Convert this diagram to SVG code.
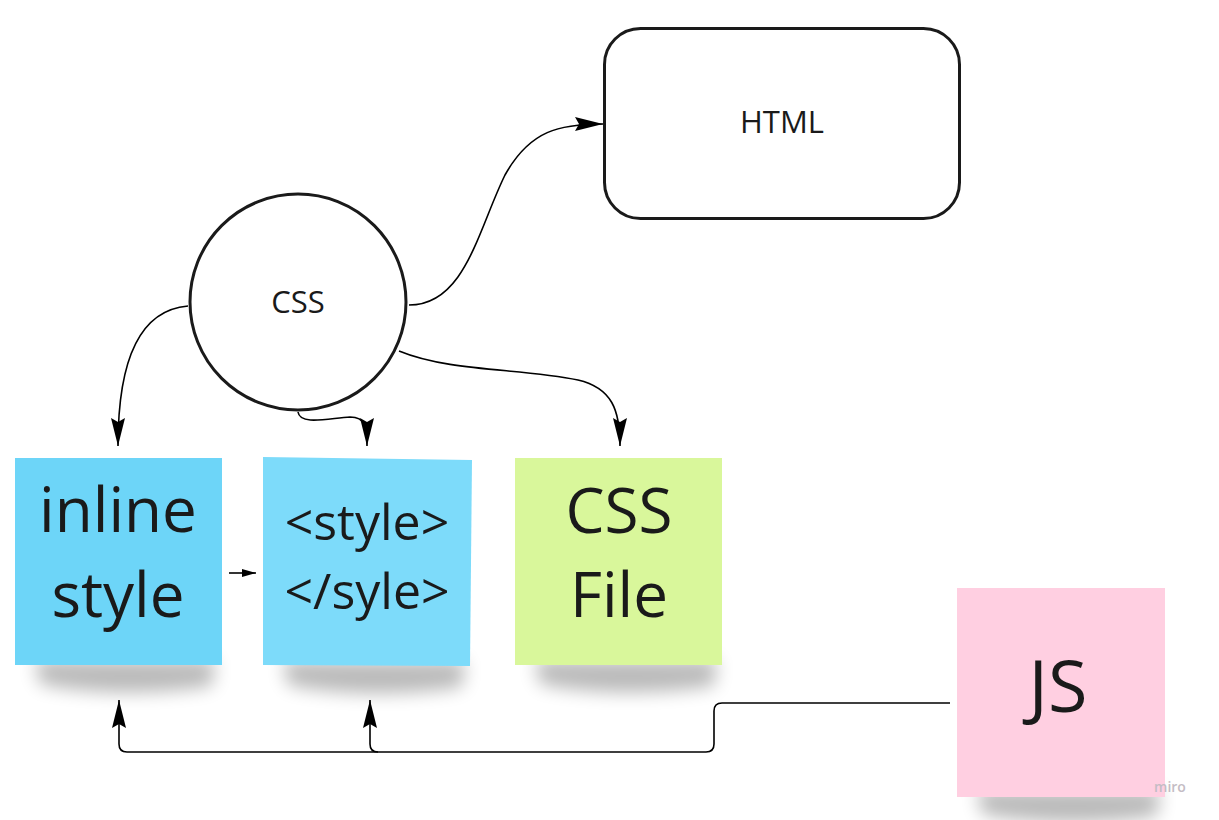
<svg xmlns="http://www.w3.org/2000/svg" width="1219" height="820" viewBox="0 0 1219 820">
<defs>
<style>
.lbl{font-family:"Open Sans","Liberation Sans",sans-serif;font-weight:400;fill:#1a1a1a;text-anchor:middle}
.edge{fill:none;stroke:#000;stroke-width:1.6}
.shape{fill:#fff;stroke:#1a1a1a;stroke-width:3}
</style>
<marker id="ah" viewBox="0 0 28 14" refX="28" refY="7" markerWidth="28" markerHeight="14" markerUnits="userSpaceOnUse" orient="auto">
<path d="M0,0 L28,7 L0,14 L4,7 Z" fill="#000"/>
</marker>
<marker id="ahs" viewBox="0 0 14 8" refX="14" refY="4" markerWidth="14" markerHeight="8" markerUnits="userSpaceOnUse" orient="auto">
<path d="M0,0 L14,4 L0,8 Z" fill="#000"/>
</marker>
<filter id="blur" x="-20%" y="-100%" width="140%" height="300%"><feGaussianBlur stdDeviation="9"/></filter>
</defs>
<rect width="1219" height="820" fill="#fff"/>

<g id="shadows" filter="url(#blur)" fill="#000" opacity="0.27">
<path d="M35,660 L215,660 L212,686 Q120,700 40,684 Z"/>
<path d="M283,661 L465,661 L462,687 Q370,701 288,685 Z"/>
<path d="M535,660 L717,660 L714,686 Q620,700 540,684 Z"/>
<path d="M977,790 L1160,790 L1157,816 Q1065,830 982,814 Z"/>
</g>

<g id="html">
<rect class="shape" x="604.5" y="28.5" width="355" height="190" rx="36"/>
<text class="lbl" x="782" y="133" font-size="31">HTML</text>
</g>

<g id="css">
<circle class="shape" cx="298" cy="302" r="108"/>
<text class="lbl" x="298" y="313" font-size="31">CSS</text>
</g>

<g id="inline-style">
<rect x="15" y="458" width="207" height="207" fill="#6dd5f8"/>
<text class="lbl" x="118" y="532" font-size="62">inline</text>
<text class="lbl" x="118" y="617" font-size="62">style</text>
</g>

<g id="style-tag">
<path d="M263,457 L472,460 L470,666 L263,665 Z" fill="#7ddbfa"/>
<text class="lbl" x="367" y="540" font-size="50">&lt;style&gt;</text>
<text class="lbl" x="367" y="609" font-size="50">&lt;/syle&gt;</text>
</g>

<g id="css-file">
<rect x="515" y="458" width="207" height="207" fill="#d9f79b"/>
<text class="lbl" x="619" y="533" font-size="62">CSS</text>
<text class="lbl" x="619" y="617" font-size="62">File</text>
</g>

<g id="js">
<rect x="957" y="588" width="208" height="209" fill="#ffcfe1"/>
<text class="lbl" x="1058" y="712" font-size="72">JS</text>
</g>

<g id="connectors">
<path class="edge" d="M409,305 C465,305 478,230 505,175 C530,130 560,124 603,124" marker-end="url(#ah)"/>
<path class="edge" d="M188,306 C140,310 118,360 118,446" marker-end="url(#ah)"/>
<path class="edge" d="M298,412 C300,426 330,418 350,417 C366,417 367,428 367,446" marker-end="url(#ah)"/>
<path class="edge" d="M399,351 C450,372 520,368 578,380 C612,388 620,410 620,446" marker-end="url(#ah)"/>
<path class="edge" d="M229,573 L256,573" marker-end="url(#ahs)"/>
<path class="edge" d="M950,703 L722,703 Q714,703 714,711 L714,744 Q714,752 706,752 L127,752 Q119,752 119,744 L119,700" marker-end="url(#ah)"/>
<path class="edge" d="M378,752 Q370,752 370,744 L370,700" marker-end="url(#ah)"/>
</g>

<text x="1170" y="792" font-family="'Open Sans','Liberation Sans',sans-serif" font-size="14" font-weight="600" fill="#c4bcc4" text-anchor="middle">miro</text>
</svg>
